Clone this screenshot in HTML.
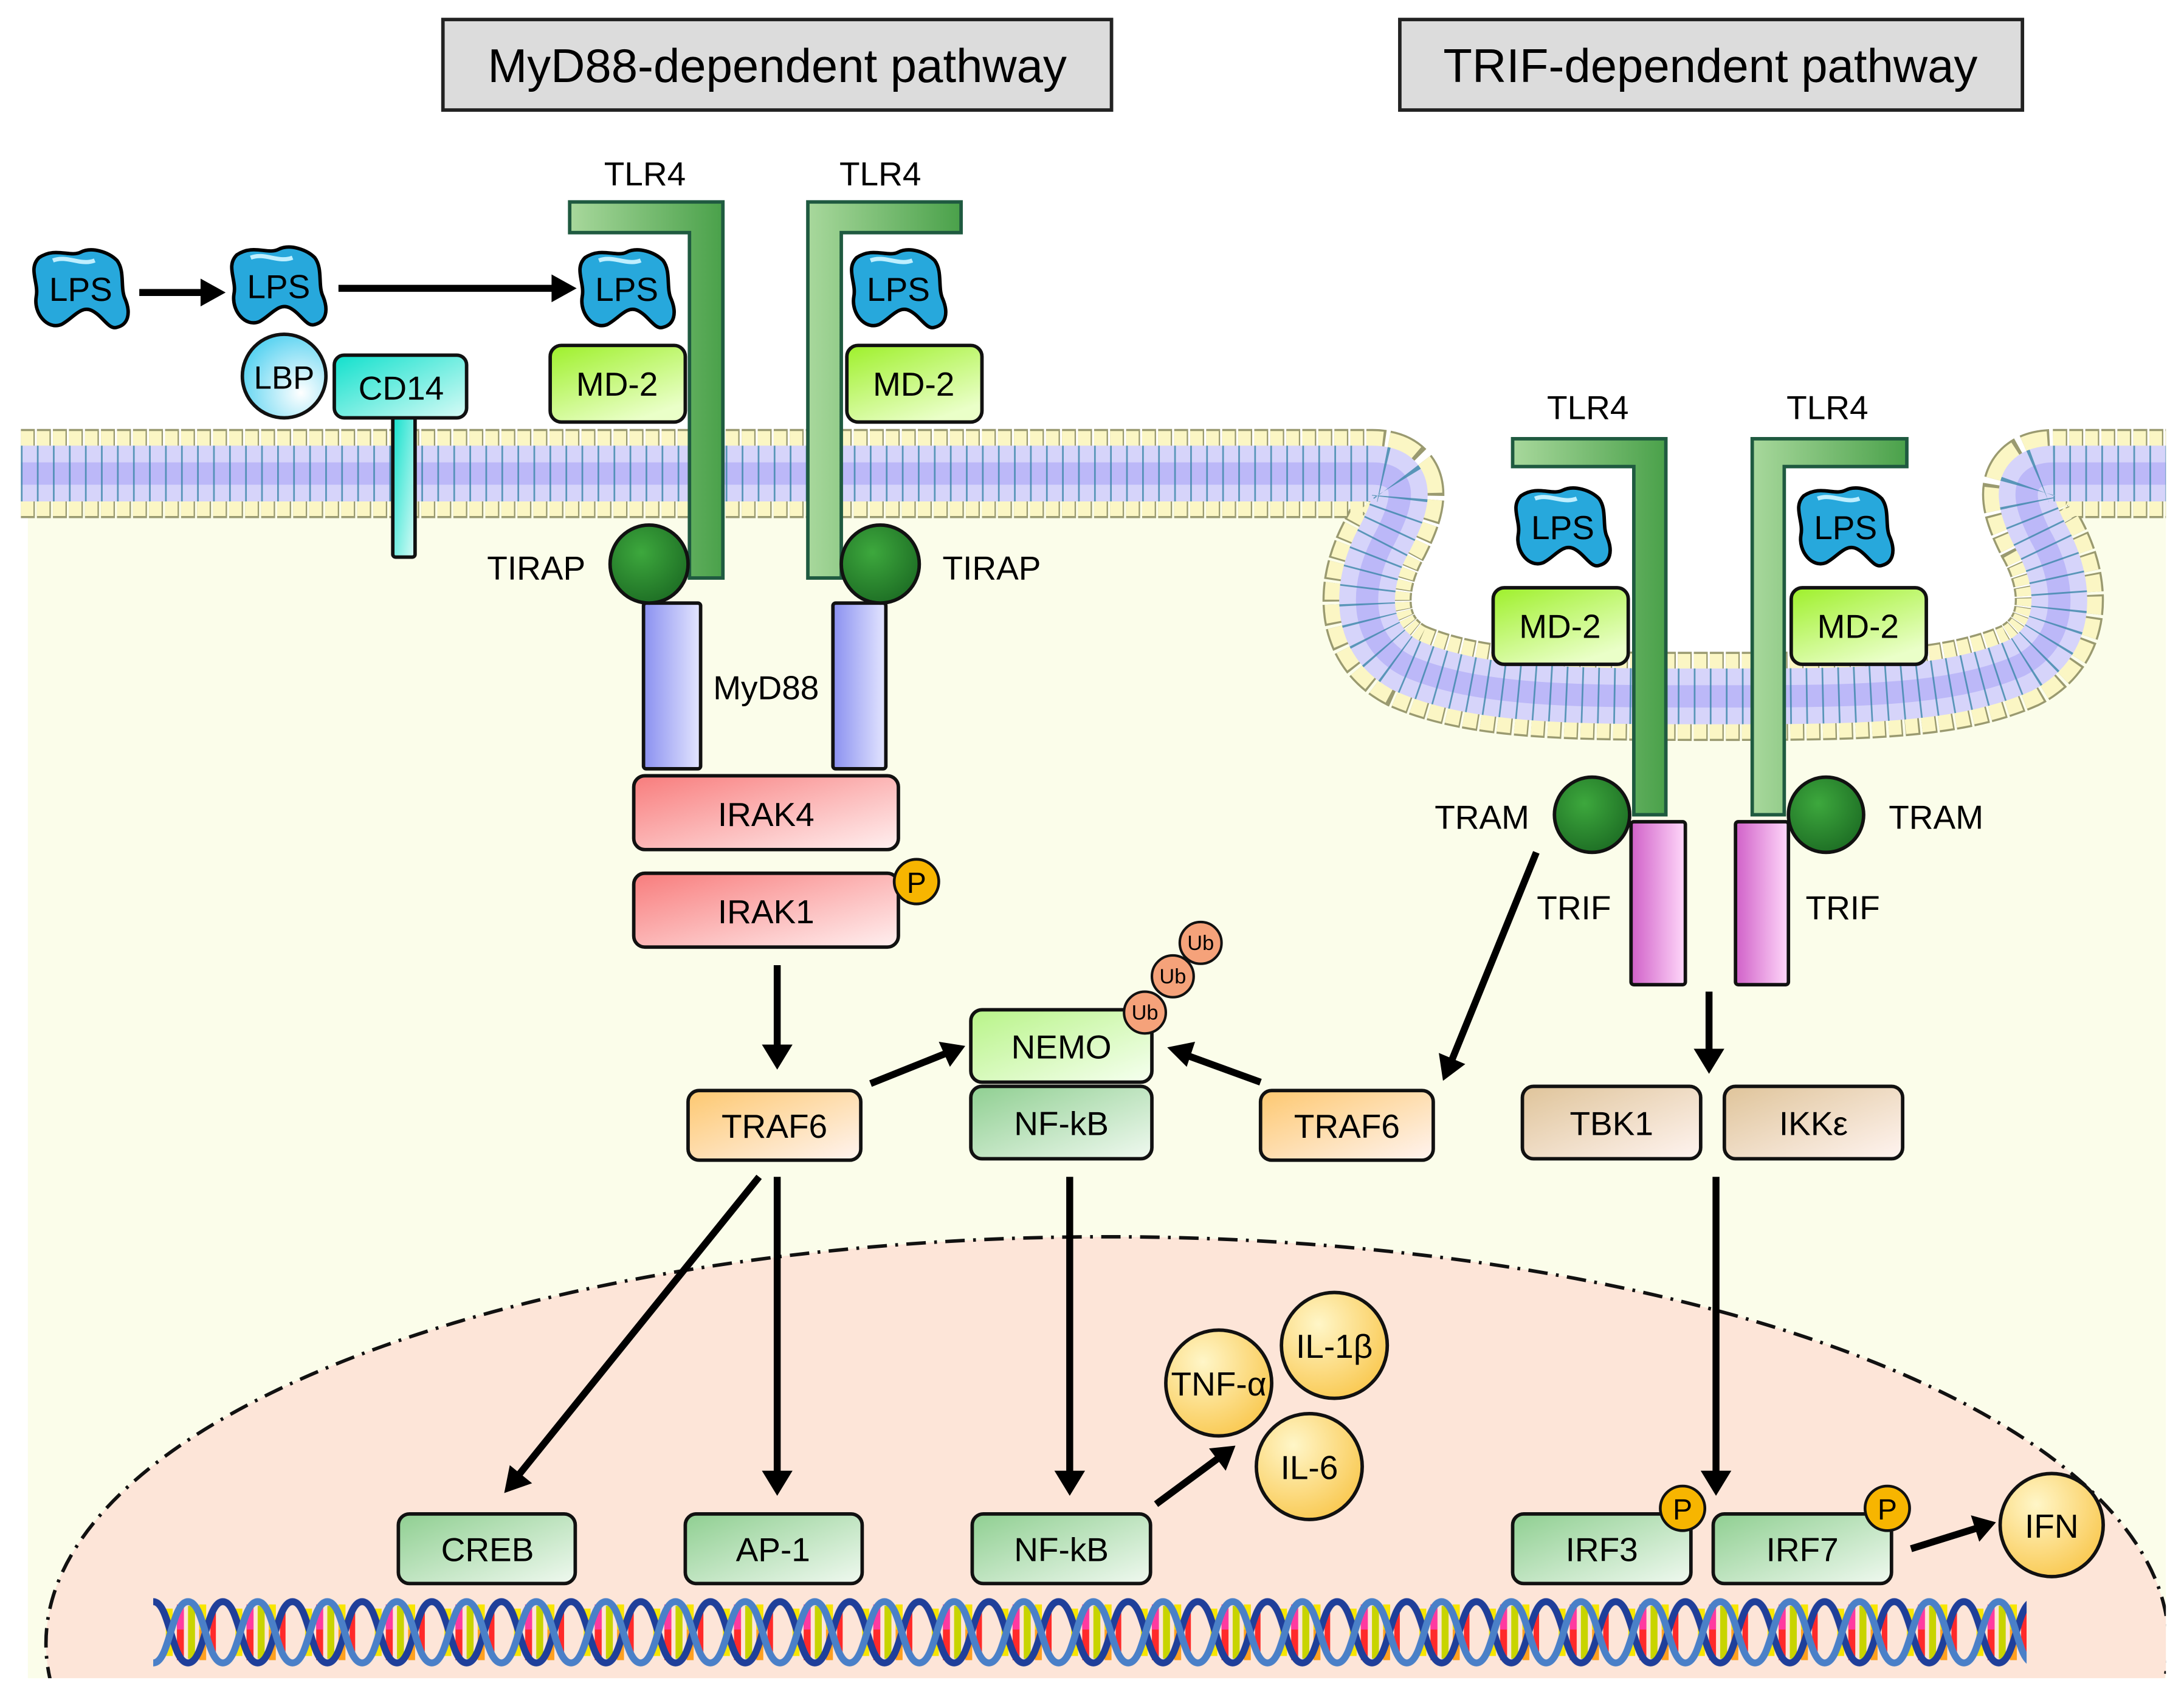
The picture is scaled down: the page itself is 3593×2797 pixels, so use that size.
<!DOCTYPE html>
<html><head><meta charset="utf-8"><style>
html,body{margin:0;padding:0;background:#fff;overflow:hidden;width:3593px;height:2797px;position:relative}
svg{display:block;position:absolute;left:0;top:0}
text{font-family:"Liberation Sans",sans-serif;fill:#000}
</style></head><body>
<svg width="3593" height="2797" viewBox="0 0 1568 1220.6" xmlns="http://www.w3.org/2000/svg" overflow="hidden">
<defs>
<linearGradient id="gG" x1="0" y1="0" x2="1" y2="1"><stop offset="0" stop-color="#8fcf91"/><stop offset="1" stop-color="#f0f9f0"/></linearGradient>
<linearGradient id="gTLR" x1="0" y1="0" x2="1" y2="0"><stop offset="0" stop-color="#a8d89c"/><stop offset="1" stop-color="#4aa14a"/></linearGradient>
<linearGradient id="gMD" x1="0" y1="0" x2="0.6" y2="1"><stop offset="0" stop-color="#9ef02a"/><stop offset="1" stop-color="#eaffc8"/></linearGradient>
<linearGradient id="gIR" x1="0" y1="0" x2="1" y2="1"><stop offset="0" stop-color="#f87c7c"/><stop offset="1" stop-color="#fff0f0"/></linearGradient>
<linearGradient id="gTR" x1="0" y1="0" x2="1" y2="1"><stop offset="0" stop-color="#fdc870"/><stop offset="1" stop-color="#fff4f0"/></linearGradient>
<linearGradient id="gNE" x1="0" y1="0" x2="1" y2="1"><stop offset="0" stop-color="#b8f488"/><stop offset="1" stop-color="#f6fff0"/></linearGradient>
<linearGradient id="gTB" x1="0" y1="0" x2="1" y2="1"><stop offset="0" stop-color="#dfc49a"/><stop offset="1" stop-color="#fff4f0"/></linearGradient>
<linearGradient id="gMY" x1="0" y1="0" x2="1" y2="0"><stop offset="0" stop-color="#8a90f0"/><stop offset="1" stop-color="#e4e6ff"/></linearGradient>
<linearGradient id="gTF" x1="0" y1="0" x2="1" y2="0"><stop offset="0" stop-color="#d060c8"/><stop offset="1" stop-color="#ffd8fa"/></linearGradient>
<linearGradient id="gCD" x1="0" y1="0" x2="1" y2="1"><stop offset="0" stop-color="#10e0cc"/><stop offset="1" stop-color="#d8fbf6"/></linearGradient>
<radialGradient id="gY" cx="0.35" cy="0.3" r="0.8"><stop offset="0" stop-color="#fff6c8"/><stop offset="1" stop-color="#f9c64a"/></radialGradient>
<radialGradient id="gLBP" cx="0.7" cy="0.7" r="0.8"><stop offset="0" stop-color="#ffffff"/><stop offset="1" stop-color="#4fd0f0"/></radialGradient>
<radialGradient id="gDG" cx="0.4" cy="0.35" r="0.7"><stop offset="0" stop-color="#3da83d"/><stop offset="1" stop-color="#1d6d24"/></radialGradient>
<pattern id="dna" x="110" y="1147" width="50" height="50" patternUnits="userSpaceOnUse">
<rect x="9" y="8" width="5" height="34" fill="#f7e600"/><rect x="17" y="5" width="5" height="40" fill="#ff2a2a"/><rect x="17" y="5" width="5" height="18" fill="#ff3aa0"/>
<rect x="25" y="6" width="5" height="38" fill="#c8d400"/><rect x="33" y="5" width="5" height="40" fill="#ffa020"/><rect x="33" y="5" width="5" height="18" fill="#f7e600"/>
<rect x="41" y="8" width="4" height="34" fill="#ff2a2a"/>
<path d="M0,3 C12,3 13,47 25,47 C37,47 38,3 50,3" fill="none" stroke="#1f3f9a" stroke-width="5"/>
<path d="M0,47 C12,47 13,3 25,3 C37,3 38,47 50,47" fill="none" stroke="#4a80c8" stroke-width="5"/>
</pattern>
<clipPath id="cyto"><rect x="20" y="0" width="1535" height="1205"/></clipPath>
<path id="mp" d="M15,340 L985,340 C1015,340 1005,365 995,385 C975,420 975,460 1010,478 C1060,500 1130,500 1230,500 C1330,500 1400,500 1450,478 C1485,460 1485,420 1465,385 C1455,365 1445,340 1475,340 L1555,340"/>
<g id="lps"><path d="M-30,-22 C-18,-30 -8,-22 0,-26 C8,-30 20,-26 26,-20 C32,-12 28,0 32,8 C36,18 34,26 26,28 C20,30 16,20 8,16 C0,12 -6,22 -14,26 C-24,30 -34,18 -32,6 C-30,-4 -38,-14 -30,-22Z" fill="#27a8dc" stroke="#000" stroke-width="2.5"/><path d="M-20,-20 C-10,-24 0,-16 10,-20" stroke="#bfefff" stroke-width="3" fill="none"/></g>
</defs>

<rect x="20" y="340" width="1535" height="865" fill="#fbfdea"/>
<path d="M985,340 C1015,340 1005,365 995,385 C975,420 975,460 1010,478 C1060,500 1130,500 1230,500 C1330,500 1400,500 1450,478 C1485,460 1485,420 1465,385 C1455,365 1445,340 1475,340 Z" fill="#fff"/>

<g clip-path="url(#cyto)">
<ellipse cx="795" cy="1180" rx="762" ry="292" fill="#fde5d8" stroke="#111" stroke-width="2.5" stroke-dasharray="14 6 2 6"/>
</g>
<rect x="0" y="1205" width="1568" height="15" fill="#fff"/>

<g fill="none">
<use href="#mp" stroke="#9a9a70" stroke-width="64" stroke-dasharray="10 1.5"/>
<use href="#mp" stroke="#fbf6c4" stroke-width="61" stroke-dasharray="9 2.5"/>
<use href="#mp" stroke="#d6d4fa" stroke-width="40"/>
<use href="#mp" stroke="#bcb8f8" stroke-width="16"/>
<use href="#mp" stroke="#3a86a8" stroke-width="40" stroke-dasharray="1.2 10.3" opacity="0.8"/>
</g>

<rect x="318" y="14" width="480" height="65" fill="#dcdcdc" stroke="#222" stroke-width="2.5"/>
<text x="558" y="59" font-size="34" text-anchor="middle">MyD88-dependent pathway</text>
<rect x="1005" y="14" width="447" height="65" fill="#dcdcdc" stroke="#222" stroke-width="2.5"/>
<text x="1228" y="59" font-size="34" text-anchor="middle">TRIF-dependent pathway</text>

<g font-size="24" text-anchor="middle">
<text x="463" y="133">TLR4</text><text x="632" y="133">TLR4</text>
<text x="1140" y="301">TLR4</text><text x="1312" y="301">TLR4</text>
</g>
<g fill="url(#gTLR)" stroke="#1f5a40" stroke-width="2.5">
<path d="M409,145 H519 V415 H495 V167 H409 Z"/>
<path d="M690,145 H580 V415 H604 V167 H690 Z"/>
<path d="M1086,315 H1196 V585 H1173 V335 H1086 Z"/>
<path d="M1369,315 H1258 V585 H1281 V335 H1369 Z"/>
</g>

<g font-size="24" text-anchor="middle">
<use href="#lps" x="58" y="207"/><text x="58" y="216">LPS</text>
<use href="#lps" x="200" y="205"/><text x="200" y="214">LPS</text>
<use href="#lps" x="450" y="207"/><text x="450" y="216">LPS</text>
<use href="#lps" x="645" y="207"/><text x="645" y="216">LPS</text>
<use href="#lps" x="1122" y="378"/><text x="1122" y="387">LPS</text>
<use href="#lps" x="1325" y="378"/><text x="1325" y="387">LPS</text>
</g>

<g stroke="#000" stroke-width="5" fill="none">
<line x1="100" y1="210" x2="148" y2="210"/>
<line x1="243" y1="207" x2="400" y2="207"/>
<line x1="558" y1="693" x2="558" y2="755"/>
<line x1="625" y1="778" x2="680" y2="756"/>
<line x1="905" y1="777" x2="850" y2="757"/>
<line x1="1103" y1="612" x2="1042" y2="762"/>
<line x1="1227" y1="712" x2="1227" y2="758"/>
<line x1="545" y1="845" x2="370" y2="1062"/>
<line x1="558" y1="845" x2="558" y2="1060"/>
<line x1="768" y1="845" x2="768" y2="1060"/>
<line x1="1232" y1="845" x2="1232" y2="1060"/>
<line x1="830" y1="1080" x2="876" y2="1046"/>
<line x1="1372" y1="1112" x2="1420" y2="1097"/>
</g>
<g fill="#000">
<polygon points="162,210 144,200 144,220"/>
<polygon points="414,207 396,197 396,217"/>
<polygon points="558,768 547,750 569,750"/>
<polygon points="693,751 674,748 682,766"/>
<polygon points="838,752 852,766 858,748"/>
<polygon points="1036,776 1033,756 1052,764"/>
<polygon points="1227,771 1216,753 1238,753"/>
<polygon points="362,1072 366,1052 382,1065"/>
<polygon points="558,1074 547,1056 569,1056"/>
<polygon points="768,1074 757,1056 779,1056"/>
<polygon points="1232,1074 1221,1056 1243,1056"/>
<polygon points="887,1038 868,1040 880,1056"/>
<polygon points="1433,1093 1415,1088 1421,1107"/>
</g>

<rect x="282" y="296" width="16" height="104" rx="2" fill="url(#gCD)" stroke="#111" stroke-width="2.5"/>
<circle cx="204" cy="270" r="30" fill="url(#gLBP)" stroke="#111" stroke-width="2.5"/>
<text x="204" y="279" font-size="23" text-anchor="middle">LBP</text>
<rect x="240" y="255" width="95" height="45" rx="7" fill="url(#gCD)" stroke="#111" stroke-width="2.5"/>
<text x="288" y="287" font-size="24" text-anchor="middle">CD14</text>

<g stroke="#111" stroke-width="2.5" fill="url(#gMD)">
<rect x="395" y="248" width="97" height="55" rx="8"/><rect x="608" y="248" width="97" height="55" rx="8"/>
<rect x="1072" y="422" width="97" height="55" rx="8"/><rect x="1286" y="422" width="97" height="55" rx="8"/>
</g>
<g font-size="24" text-anchor="middle">
<text x="443" y="284">MD-2</text><text x="656" y="284">MD-2</text>
<text x="1120" y="458">MD-2</text><text x="1334" y="458">MD-2</text>
</g>

<g stroke="#111" stroke-width="2.5">
<rect x="462" y="433" width="41" height="119" rx="2" fill="url(#gMY)"/>
<rect x="598" y="433" width="38" height="119" rx="2" fill="url(#gMY)"/>
<circle cx="466" cy="405" r="28" fill="url(#gDG)"/>
<circle cx="632" cy="405" r="28" fill="url(#gDG)"/>
<rect x="1171" y="590" width="39" height="117" rx="2" fill="url(#gTF)"/>
<rect x="1246" y="590" width="38" height="117" rx="2" fill="url(#gTF)"/>
<circle cx="1143" cy="585" r="27" fill="url(#gDG)"/>
<circle cx="1311" cy="585" r="27" fill="url(#gDG)"/>
</g>
<g font-size="24" text-anchor="middle">
<text x="385" y="416">TIRAP</text><text x="712" y="416">TIRAP</text>
<text x="550" y="502">MyD88</text>
<text x="1064" y="595">TRAM</text><text x="1390" y="595">TRAM</text>
<text x="1130" y="660">TRIF</text><text x="1323" y="660">TRIF</text>
</g>

<g stroke="#111" stroke-width="2.5">
<rect x="455" y="557" width="190" height="53" rx="8" fill="url(#gIR)"/>
<rect x="455" y="627" width="190" height="53" rx="8" fill="url(#gIR)"/>
<rect x="494" y="783" width="124" height="50" rx="8" fill="url(#gTR)"/>
<rect x="905" y="783" width="124" height="50" rx="8" fill="url(#gTR)"/>
<rect x="697" y="725" width="130" height="52" rx="8" fill="url(#gNE)"/>
<rect x="697" y="780" width="130" height="52" rx="8" fill="url(#gG)"/>
<rect x="1093" y="780" width="128" height="52" rx="8" fill="url(#gTB)"/>
<rect x="1238" y="780" width="128" height="52" rx="8" fill="url(#gTB)"/>
<rect x="286" y="1087" width="127" height="50" rx="8" fill="url(#gG)"/>
<rect x="492" y="1087" width="127" height="50" rx="8" fill="url(#gG)"/>
<rect x="698" y="1087" width="128" height="50" rx="8" fill="url(#gG)"/>
<rect x="1086" y="1087" width="128" height="50" rx="8" fill="url(#gG)"/>
<rect x="1230" y="1087" width="128" height="50" rx="8" fill="url(#gG)"/>
</g>
<g font-size="24" text-anchor="middle">
<text x="550" y="593">IRAK4</text><text x="550" y="663">IRAK1</text>
<text x="556" y="817">TRAF6</text><text x="967" y="817">TRAF6</text>
<text x="762" y="760">NEMO</text><text x="762" y="815">NF-kB</text>
<text x="1157" y="815">TBK1</text><text x="1302" y="815">IKKε</text>
<text x="350" y="1121">CREB</text><text x="555" y="1121">AP-1</text>
<text x="762" y="1121">NF-kB</text><text x="1150" y="1121">IRF3</text><text x="1294" y="1121">IRF7</text>
</g>

<g stroke="#111" stroke-width="2" fill="#f7b500">
<circle cx="658" cy="633" r="16"/><circle cx="1208" cy="1083" r="16"/><circle cx="1355" cy="1083" r="16"/>
</g>
<g font-size="21" text-anchor="middle">
<text x="658" y="641">P</text><text x="1208" y="1091">P</text><text x="1355" y="1091">P</text>
</g>
<g stroke="#111" stroke-width="1.8" fill="#f5a27a">
<circle cx="862" cy="677" r="15"/><circle cx="842" cy="701" r="15"/><circle cx="822" cy="727" r="15"/>
</g>
<g font-size="15" text-anchor="middle">
<text x="862" y="682">Ub</text><text x="842" y="706">Ub</text><text x="822" y="732">Ub</text>
</g>

<g stroke="#111" stroke-width="2.5" fill="url(#gY)">
<circle cx="958" cy="966" r="38"/><circle cx="875" cy="993" r="38"/><circle cx="940" cy="1053" r="38"/><circle cx="1473" cy="1095" r="37"/>
</g>
<g font-size="24" text-anchor="middle">
<text x="958" y="975">IL-1β</text><text x="875" y="1002">TNF-α</text><text x="940" y="1062">IL-6</text><text x="1473" y="1104">IFN</text>
</g>

<rect x="110" y="1147" width="1345" height="50" fill="url(#dna)"/>
</svg>
</body></html>
